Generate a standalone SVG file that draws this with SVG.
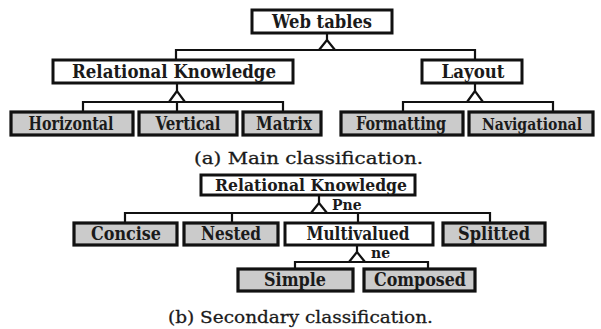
<svg xmlns="http://www.w3.org/2000/svg" width="601" height="329" viewBox="0 0 601 329">
  <defs>
    <style>
      .box { fill: #ffffff; stroke: #111; stroke-width: 3; }
      .leaf { fill: #cbcbcb; stroke: #111; stroke-width: 3.2; }
      .lbl { font-family: "DejaVu Serif", "Liberation Serif", serif; font-weight: bold; font-size: 18px; fill: #1a1a1a; text-anchor: middle; }
      .narrow { font-family: "DejaVu Serif Condensed", "DejaVu Serif", serif; font-stretch: condensed; font-size: 17.5px; }
      .small { font-family: "DejaVu Serif", "Liberation Serif", serif; font-weight: bold; font-size: 14px; fill: #1a1a1a; }
      .cap { font-family: "DejaVu Serif", "Liberation Serif", serif; font-size: 17px; fill: #1a1a1a; stroke: #1a1a1a; stroke-width: 0.3; }
      .wire { fill: none; stroke: #111; stroke-width: 2.2; }
      .fork { fill: #ffffff; stroke: #111; stroke-width: 2.2; stroke-linejoin: miter; }
    </style>
  </defs>
  <rect width="601" height="329" fill="#ffffff"/>

  <!-- connectors -->
  <g id="connectors">
    <!-- main: Web tables -> Relational Knowledge / Layout -->
    <path class="wire" d="M327 33 V40 M176 59 V50 H475 V59"/>
    <polygon class="fork" points="327,40 319,50 335,50"/>
    <!-- main: Relational Knowledge -> Horizontal / Vertical / Matrix -->
    <path class="wire" d="M177 83 V91 M83 112 V102 H283 V112 M177 102 V112"/>
    <polygon class="fork" points="177,91 169,102 185,102"/>
    <!-- main: Layout -> Formatting / Navigational -->
    <path class="wire" d="M475 83 V91 M403 112 V102 H553 V112"/>
    <polygon class="fork" points="475,91 467,102 483,102"/>
    <!-- secondary: Relational Knowledge -> four kinds -->
    <path class="wire" d="M319 195 V203 M125 223 V213 H490 V223 M232 213 V223 M358 213 V223"/>
    <polygon class="fork" points="319,203 311,213 327,213"/>
    <!-- secondary: Multivalued -> Simple / Composed -->
    <path class="wire" d="M357 245 V252 M295 269 V262 H428 V269"/>
    <polygon class="fork" points="357,252 349,262 365,262"/>
  </g>

  <!-- labels on the forks -->
  <text class="small" x="332" y="210">Pne</text>
  <text class="small" x="371" y="258">ne</text>

  <!-- (a) main classification -->
  <g id="web-tables">
    <rect class="box" x="252" y="10" width="140" height="23"/>
    <text class="lbl" x="322" y="28" textLength="100" lengthAdjust="spacingAndGlyphs">Web tables</text>
  </g>
  <g id="relational-knowledge">
    <rect class="box" x="53" y="60" width="240" height="23"/>
    <text class="lbl" x="174" y="78" textLength="204" lengthAdjust="spacingAndGlyphs">Relational Knowledge</text>
  </g>
  <g id="layout">
    <rect class="box" x="422" y="60" width="100" height="23"/>
    <text class="lbl" x="473" y="78" textLength="63" lengthAdjust="spacingAndGlyphs">Layout</text>
  </g>
  <g id="horizontal">
    <rect class="leaf" x="11" y="112" width="122" height="23"/>
    <text class="lbl" x="71" y="130" textLength="85" lengthAdjust="spacingAndGlyphs">Horizontal</text>
  </g>
  <g id="vertical">
    <rect class="leaf" x="139" y="112" width="98" height="23"/>
    <text class="lbl" x="188" y="130" textLength="65" lengthAdjust="spacingAndGlyphs">Vertical</text>
  </g>
  <g id="matrix">
    <rect class="leaf" x="243" y="112" width="78" height="23"/>
    <text class="lbl" x="284" y="130" textLength="56" lengthAdjust="spacingAndGlyphs">Matrix</text>
  </g>
  <g id="formatting">
    <rect class="leaf" x="341" y="112" width="122" height="23"/>
    <text class="lbl" x="401" y="130" textLength="90" lengthAdjust="spacingAndGlyphs">Formatting</text>
  </g>
  <g id="navigational">
    <rect class="leaf" x="469" y="112" width="124" height="23"/>
    <text class="lbl narrow" x="532" y="130" textLength="100" lengthAdjust="spacingAndGlyphs">Navigational</text>
  </g>
  <text class="cap" x="194" y="164" textLength="229" lengthAdjust="spacingAndGlyphs">(a) Main classification.</text>

  <!-- (b) secondary classification -->
  <g id="relational-knowledge-2">
    <rect class="box" x="201" y="175" width="214" height="20"/>
    <text class="lbl" x="311" y="191" style="font-size:17px" textLength="192" lengthAdjust="spacingAndGlyphs">Relational Knowledge</text>
  </g>
  <g id="concise">
    <rect class="leaf" x="74" y="223" width="103" height="22"/>
    <text class="lbl" x="126" y="240" textLength="70" lengthAdjust="spacingAndGlyphs">Concise</text>
  </g>
  <g id="nested">
    <rect class="leaf" x="184" y="223" width="94" height="22"/>
    <text class="lbl" x="231" y="240" textLength="60" lengthAdjust="spacingAndGlyphs">Nested</text>
  </g>
  <g id="multivalued">
    <rect class="box" x="285" y="223" width="148" height="22"/>
    <text class="lbl" x="358" y="240" textLength="103" lengthAdjust="spacingAndGlyphs">Multivalued</text>
  </g>
  <g id="splitted">
    <rect class="leaf" x="443" y="223" width="102" height="22"/>
    <text class="lbl" x="494" y="240" textLength="72" lengthAdjust="spacingAndGlyphs">Splitted</text>
  </g>
  <g id="simple">
    <rect class="leaf" x="238" y="269" width="115" height="22"/>
    <text class="lbl" x="295" y="286" textLength="62" lengthAdjust="spacingAndGlyphs">Simple</text>
  </g>
  <g id="composed">
    <rect class="leaf" x="364" y="269" width="111" height="22"/>
    <text class="lbl" x="420" y="286" textLength="92" lengthAdjust="spacingAndGlyphs">Composed</text>
  </g>
  <text class="cap" x="168" y="323" textLength="265" lengthAdjust="spacingAndGlyphs">(b) Secondary classification.</text>
</svg>
